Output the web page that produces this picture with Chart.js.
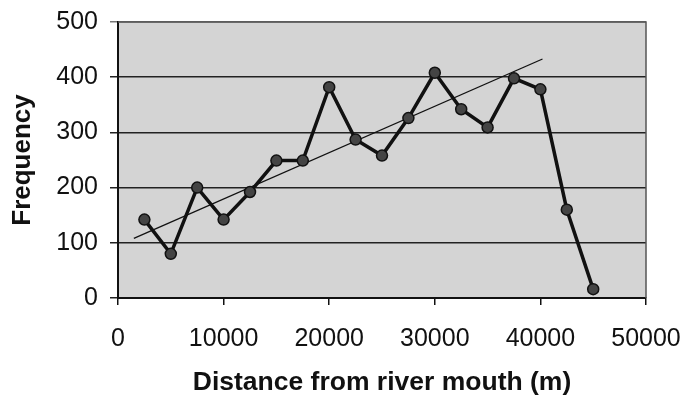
<!DOCTYPE html>
<html>
<head>
<meta charset="utf-8">
<script src="https://cdn.jsdelivr.net/npm/chart.js@4/dist/chart.umd.min.js"></script>
<style>
  html, body { margin: 0; padding: 0; background: #fff; }
  #wrap { width: 685px; height: 399px; }
</style>
</head>
<body>
<div id="wrap"><canvas id="chart" width="685" height="399"></canvas></div>
<script>
// data
const distance = [2500, 5000, 7500, 10000, 12500, 15000, 17500, 20000, 22500,
  25000, 27500, 30000, 32500, 35000, 37500, 40000, 42500, 45000]
const frequency = [142, 80, 200, 142, 192, 249, 249, 382, 287,
  258, 326, 408, 342, 309, 398, 378, 160, 16]

// trend line ends as drawn in the picture
const trendX = [1500, 40200]
const trendY = [108, 433]

const xTicks = [0, 10000, 20000, 30000, 40000, 50000]
const yTicks = [0, 100, 200, 300, 400, 500]

const FONT = "'Liberation Sans', Arial, sans-serif"

// grey plot background + frame
const plotBg = {
  id: "plotBg",
  beforeDraw(chart) {
    const { ctx, chartArea: a } = chart
    ctx.save()
    ctx.fillStyle = "#d4d4d4"
    ctx.fillRect(a.left, a.top, a.right - a.left, a.bottom - a.top)
    ctx.restore()
  },
  afterDatasetsDraw(chart) {
    const { ctx, chartArea: a } = chart
    ctx.save()
    ctx.strokeStyle = "#555"
    ctx.lineWidth = 1.5
    ctx.beginPath()
    ctx.moveTo(a.left, a.top)
    ctx.lineTo(a.right, a.top)
    ctx.lineTo(a.right, a.bottom)
    ctx.stroke()
    ctx.restore()
  }
}

new Chart(document.getElementById("chart"), {
  type: "line",
  data: {
    datasets: [
      {
        data: distance.map((x, i) => ({ x, y: frequency[i] })),
        borderColor: "#111",
        borderWidth: 3.5,
        pointRadius: 5.5,
        pointBackgroundColor: "#444",
        pointBorderColor: "#111",
        pointBorderWidth: 1.5,
        tension: 0
      },
      {
        data: trendX.map((x, i) => ({ x, y: trendY[i] })),
        borderColor: "#111",
        borderWidth: 1.3,
        pointRadius: 0,
        tension: 0
      }
    ]
  },
  plugins: [plotBg],
  options: {
    responsive: false,
    animation: false,
    layout: { padding: { top: 22, right: 39, bottom: 0, left: 0 } },
    plugins: { legend: { display: false }, tooltip: { enabled: false } },
    scales: {
      x: {
        type: "linear",
        min: 0,
        max: 50000,
        afterFit(s) {
          s.height = 101
          s.paddingLeft = 0
          s.paddingRight = 0
        },
        afterBuildTicks(s) { s.ticks = xTicks.map(v => ({ value: v })) },
        border: { color: "#111", width: 2 },
        grid: { drawOnChartArea: false, color: "#111", tickLength: 7, lineWidth: 1.5 },
        ticks: {
          color: "#111",
          padding: 19,
          maxRotation: 0,
          font: { family: FONT, size: 25 },
          callback: v => String(v)
        },
        title: {
          display: true,
          text: "Distance from river mouth (m)",
          color: "#111",
          padding: { top: 2, bottom: 0 },
          font: { family: FONT, size: 26.5, weight: "bold" }
        }
      },
      y: {
        min: 0,
        max: 500,
        afterFit(s) {
          s.width = 118
          s.paddingTop = 0
          s.paddingBottom = 0
        },
        afterBuildTicks(s) { s.ticks = yTicks.map(v => ({ value: v })) },
        border: { color: "#111", width: 2 },
        grid: {
          color: ctx => (ctx.tick && ctx.tick.value === 500 ? "#777" : "#222"),
          lineWidth: 1.5,
          tickLength: 8
        },
        ticks: { color: "#111", padding: 12, font: { family: FONT, size: 25 } },
        title: {
          display: true,
          text: "Frequency",
          color: "#111",
          padding: { top: 7, bottom: 2 },
          font: { family: FONT, size: 26, weight: "bold" }
        }
      }
    }
  }
})
</script>
</body>
</html>
